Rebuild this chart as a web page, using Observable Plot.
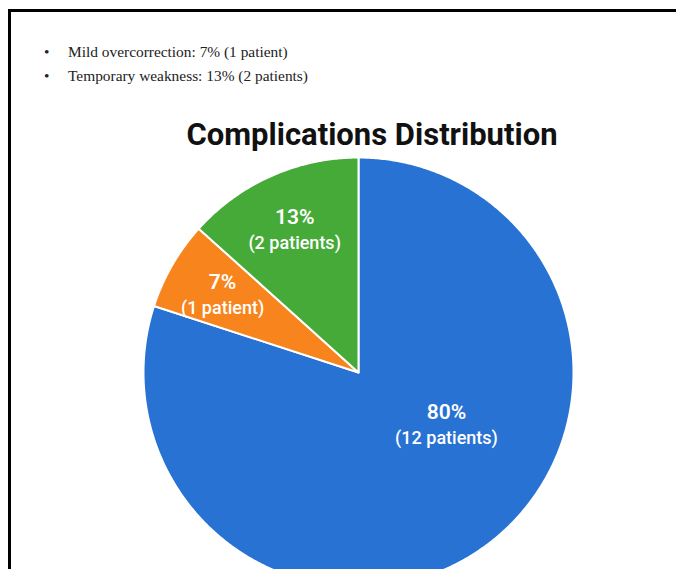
<!DOCTYPE html>
<html>
<head>
<meta charset="utf-8">
<script src="https://cdn.jsdelivr.net/npm/d3@7"></script>
<script src="https://cdn.jsdelivr.net/npm/@observablehq/plot@0.6"></script>
<style>
  html, body { margin: 0; padding: 0; background: #fff; width: 678px; height: 569px; overflow: hidden; }
  #page { position: relative; width: 678px; height: 569px; }
  #frame { position: absolute; left: 8px; top: 9px; width: 668px; height: 600px;
           border-left: 3px solid #000; border-top: 3px solid #000; box-sizing: border-box;
           pointer-events: none; z-index: 2; }
  .note { position: absolute; left: 68px; font-family: "Liberation Serif", "Times New Roman", serif;
          font-size: 15.4px; line-height: 15px; color: #222; white-space: nowrap; }
  .note .dot { position: absolute; left: -24px; }
  #title { position: absolute; left: 0; width: 744px; top: 119px; text-align: center;
           font-family: Roboto, "Noto Sans", sans-serif; font-weight: 700; font-size: 31px;
           line-height: 31px; color: #111; }
  #chart { position: absolute; left: 0; top: 152px; }
</style>
</head>
<body>
<div id="page">
  <div id="frame"></div>
  <div id="notes"></div>
  <div id="title">Complications Distribution</div>
  <div id="chart"></div>
</div>
<script>
// Outcome categories and patient counts
const categories = ["No complications", "Mild overcorrection", "Temporary weakness"];
const patients = [12, 1, 2];
// Which categories get a bullet note above the chart
const noted = ["Mild overcorrection", "Temporary weakness"];

const colors = ["#2772d2", "#f7841c", "#46aa38"];
const total = d3.sum(patients);
const pct = v => Math.round(v / total * 100) + "%";
const countText = v => `(${v} patient${v === 1 ? "" : "s"})`;

// Bullet notes
const notes = document.getElementById("notes");
noted.forEach((name, k) => {
  const i = categories.indexOf(name);
  const div = document.createElement("div");
  div.className = "note";
  div.style.top = (44.2 + k * 23.5) + "px";
  div.innerHTML = `<span class="dot">•</span>`;
  div.appendChild(document.createTextNode(`${name}: ${pct(patients[i])} ${countText(patients[i])}`));
  notes.appendChild(div);
});

// Pie geometry: angles clockwise from 12 o'clock, in pixel units around the centre
const R = 215;
const arcs = d3.pie().sort(null).value(d => d)(patients);
const slices = [];
arcs.forEach((a, i) => {
  const cat = categories[i];
  const steps = Math.max(2, Math.ceil((a.endAngle - a.startAngle) / (Math.PI / 360)));
  slices.push({cat, x: 0, y: 0});
  for (let k = 0; k <= steps; k++) {
    const t = a.startAngle + (a.endAngle - a.startAngle) * k / steps;
    slices.push({cat, x: R * Math.sin(t), y: R * Math.cos(t)});
  }
  slices.push({cat, x: 0, y: 0});
});

// Label anchors: small slices on their mid-angle, the large slice nearer the centre
const labels = arcs.map((a, i) => {
  const big = a.endAngle - a.startAngle > Math.PI;
  const t = (a.startAngle + a.endAngle) / 2 + (big ? -0.41 : 0);
  const r = R * (big ? 0.475 : 0.73);
  return {x: r * Math.sin(t), y: r * Math.cos(t), pct: pct(patients[i]), sub: countText(patients[i])};
});

const W = 678, H = 417;
const chart = Plot.plot({
  width: W,
  height: H,
  margin: 0,
  x: {domain: [-358, W - 358], range: [0, W], axis: null},
  y: {domain: [-(H - 220), 220], range: [H, 0], axis: null},
  color: {domain: categories, range: colors},
  style: {background: "transparent", overflow: "visible"},
  marks: [
    Plot.line(slices, {x: "x", y: "y", z: "cat", fill: "cat", stroke: "white",
                       strokeWidth: 2, strokeLinejoin: "round"}),
    Plot.text(labels, {x: "x", y: "y", text: "pct", fill: "white", fontFamily: "Roboto",
                       fontSize: 21, fontWeight: 600, lineAnchor: "bottom", dy: -5}),
    Plot.text(labels, {x: "x", y: "y", text: "sub", fill: "white", fontFamily: "Roboto",
                       fontSize: 18, fontWeight: 500, lineAnchor: "bottom", dy: 20})
  ]
});
document.getElementById("chart").appendChild(chart);
</script>
</body>
</html>
